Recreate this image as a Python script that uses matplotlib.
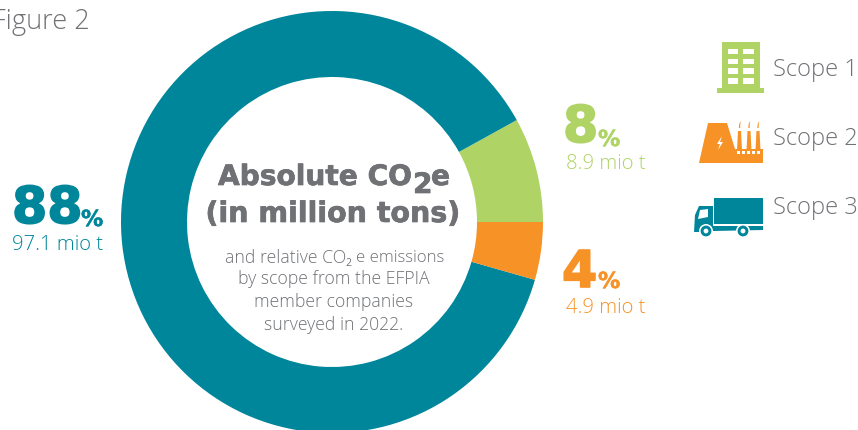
import matplotlib
matplotlib.use("Agg")
import matplotlib.pyplot as plt
import matplotlib.patheffects as pe
from matplotlib.patches import Polygon, Rectangle, Circle

# values in million tons
scopes = ["Scope 1", "Scope 3", "Scope 2"]
mio_t = [8.9, 97.1, 4.9]
colors = ["#afd465", "#00869a", "#f79226"]

W, H = 858, 430
GREY = "#6f7175"
TEAL, GREEN, ORANGE = "#00869a", "#afd465", "#f79226"
SANS = "Open Sans"


def Y(y):
    # y from the top, in pixels
    return H - y


def rect(ax, x0, y0, x1, y1, c, z=5):
    ax.add_patch(Rectangle((x0, Y(y1)), x1 - x0, y1 - y0, fc=c, ec="none", zorder=z))


def poly(ax, pts, c, z=5):
    ax.add_patch(Polygon([(x, Y(y)) for x, y in pts], fc=c, ec="none", zorder=z))


def heavy(c, w=0.9):
    return [pe.withStroke(linewidth=w, foreground=c)]


fig = plt.figure(figsize=(W / 100, H / 100), dpi=100)
ax = fig.add_axes([0, 0, 1, 1])

ax.pie(mio_t, colors=colors, startangle=0, counterclock=True, center=(332, Y(222)),
       radius=211, wedgeprops=dict(width=66, linewidth=0), frame=True)
ax.set_xlim(0, W)
ax.set_ylim(0, H)
ax.set_aspect("equal")
ax.axis("off")

ax.text(-8, Y(22), "Figure 2", fontsize=19.5, color=GREY, family=SANS, fontweight="light", va="center")

# centre text
title = dict(fontweight="bold", color=GREY, va="center", path_effects=heavy(GREY, 0.5))
ax.text(218, Y(177), "Absolute CO", fontsize=20.2, ha="left", **title)
ax.text(413, Y(185), "2", fontsize=20.2, ha="left", **title)
ax.text(431, Y(177), "e", fontsize=20.2, ha="left", **title)
ax.text(333, Y(214), "(in million tons)", fontsize=20.5, ha="center", **title)

body = dict(fontsize=12.7, color=GREY, family=SANS, fontweight="light", va="center")
ax.text(225, Y(258), "and relative CO", ha="left", **body)
ax.text(345.5, Y(264), "2", fontsize=7.5, color=GREY, family=SANS, ha="left", va="center")
ax.text(444, Y(258), "e emissions", ha="right", color=GREY, family=SANS, fontweight="light", va="center", fontsize=12.1)
ax.text(334, Y(279), "by scope from the EFPIA", ha="center", **body)
ax.text(334, Y(302), "member companies", ha="center", **body)
ax.text(334, Y(325), "surveyed in 2022.", ha="center", **body)

# percentages
for x, y, num, pct_x, pct_y, c, lab, lab_x, lab_y in [
        (12, 209, "88", 81, 220, TEAL, "97.1 mio t", 12, 245),
        (563, 128, "8", 598, 140, GREEN, "8.9 mio t", 566, 164),
        (562, 273, "4", 598, 282, ORANGE, "4.9 mio t", 566, 308)]:
    ax.text(x, Y(y), num, fontsize=36.5, fontweight="bold", color=c, ha="left", va="center", path_effects=heavy(c, 1.2))
    ax.text(pct_x, Y(pct_y), "%", fontsize=16, fontweight="bold", color=c, ha="left", va="center", path_effects=heavy(c, 0.3))
    ax.text(lab_x, Y(lab_y), lab, fontsize=14.6, color=c, family=SANS, fontweight="light", ha="left", va="center")

# legend text
for y, name in [(70, "Scope 1"), (139, "Scope 2"), (208, "Scope 3")]:
    ax.text(773, Y(y), name, fontsize=17, color=GREY, family=SANS, fontweight="light", ha="left", va="center")

# building icon
rect(ax, 722, 42, 760, 88, GREEN)
rect(ax, 717, 88, 764, 93, GREEN)
for wy in [(49, 54), (59, 64), (68, 74), (78, 84)]:
    rect(ax, 727.5, wy[0], 738, wy[1], "white", 6)
    rect(ax, 743, wy[0], 754, wy[1], "white", 6)

# power plant icon
poly(ax, [(699, 163), (708, 123), (727, 123), (735, 149), (763, 149), (763, 163)], ORANGE)
for x in [737, 746.5, 755.5]:
    poly(ax, [(x, 150), (x + 1, 131), (x + 4, 131), (x + 5, 150)], ORANGE)
    poly(ax, [(x + 1.8, 128), (x + 2.2, 124), (x + 3.8, 121), (x + 3.2, 125), (x + 3.2, 128)], ORANGE)
poly(ax, [(722, 136), (717, 144), (720, 144), (718, 150), (723, 142), (720, 142)], "white", 6)
for x in [737, 742, 747, 752, 757]:
    rect(ax, x, 151, x + 3, 154, "white", 6)

# truck icon
rect(ax, 714, 198, 763, 224, TEAL)
poly(ax, [(694, 232), (695, 215), (699, 206), (713, 206), (713, 232)], TEAL)
poly(ax, [(698, 219), (700, 210), (708, 209), (708, 217)], "white", 6)
poly(ax, [(713, 226), (763, 226), (763, 230), (713, 231)], TEAL)
for cx in [706, 743]:
    ax.add_patch(Circle((cx, Y(231)), 7, fc="white", ec="none", zorder=6))
    ax.add_patch(Circle((cx, Y(231)), 5.4, fc=TEAL, ec="none", zorder=7))
    ax.add_patch(Circle((cx, Y(231)), 2.4, fc="white", ec="none", zorder=8))

fig.savefig("out.png", dpi=100)
